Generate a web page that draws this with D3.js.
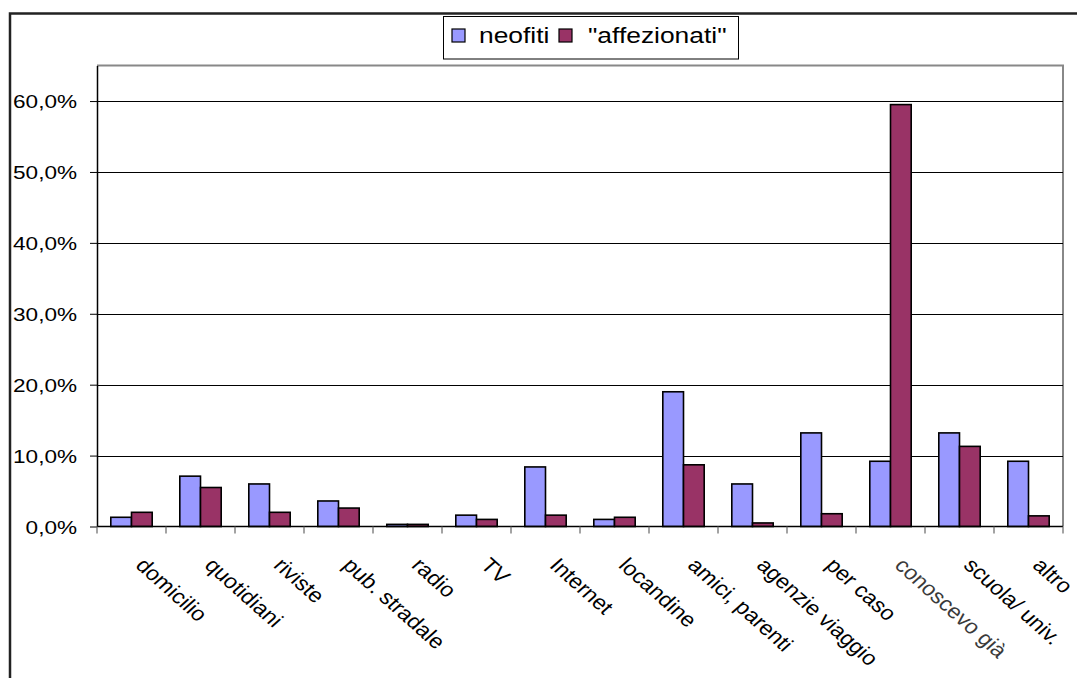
<!DOCTYPE html>
<html>
<head>
<meta charset="utf-8">
<script src="https://cdn.jsdelivr.net/npm/d3@7"></script>
<style>
  html, body { margin: 0; padding: 0; background: #fff; }
  svg { display: block; font-family: Arial, "Liberation Sans", sans-serif; }
</style>
</head>
<body>
<svg id="chart" width="1077" height="678"></svg>
<script>
// Come sono venuti a conoscenza dell'evento: neofiti vs "affezionati"
const categories = ["domicilio", "quotidiani", "riviste", "pub. stradale", "radio", "TV",
  "Internet", "locandine", "amici, parenti", "agenzie viaggio", "per caso",
  "conoscevo già", "scuola/ univ.", "altro"];
const seriesNames = ["neofiti", "\"affezionati\""];
const neofiti =     [0.013, 0.071, 0.060, 0.036, 0.003, 0.016, 0.084, 0.010, 0.190, 0.060, 0.132, 0.092, 0.132, 0.092];
const affezionati = [0.020, 0.055, 0.020, 0.026, 0.003, 0.010, 0.016, 0.013, 0.087, 0.005, 0.018, 0.595, 0.113, 0.015];
const yTicks = [0, 0.1, 0.2, 0.3, 0.4, 0.5, 0.6];
const colors = ["#9999FF", "#993366"];

const seriesValues = [neofiti, affezionati];
const data = categories.map((c, i) => ({ cat: c, values: seriesValues.map(s => s[i]) }));

const svg = d3.select("#chart");
const stretch = 1.2;       // wide glyph proportions of the chart's typeface
const labelStretch = 1.125; // proportions of the slanted category labels

const plot = { left: 97, right: 1063, top: 65.6, bottom: 526.5 };

const itLocale = d3.formatLocale({ decimal: ",", thousands: ".", grouping: [3], currency: ["", "€"] });
const pct = itLocale.format(".1%");

const x0 = d3.scaleBand().domain(categories).range([plot.left, plot.right]).paddingInner(0).paddingOuter(0);
const x1 = d3.scaleBand().domain(d3.range(seriesNames.length)).range([0, x0.bandwidth()])
  .paddingInner(0).paddingOuter(0.667);
const y = d3.scaleLinear().domain([0, 0.65]).range([plot.bottom, plot.top]);

// outer chart frame (extends past the window)
svg.append("rect")
  .attr("x", 10).attr("y", 13.5).attr("width", 1200).attr("height", 800)
  .attr("fill", "none").attr("stroke", "#222").attr("stroke-width", 2.5);

// plot area border (top and right in grey)
svg.append("path")
  .attr("d", `M${plot.left},${plot.top}H${plot.right}V${plot.bottom}`)
  .attr("fill", "none").attr("stroke", "#888").attr("stroke-width", 2);

// gridlines
svg.append("g").selectAll("line").data(yTicks.filter(d => d > 0)).join("line")
  .attr("x1", plot.left).attr("x2", plot.right)
  .attr("y1", d => Math.round(y(d)) + 0.5).attr("y2", d => Math.round(y(d)) + 0.5)
  .attr("stroke", "#000").attr("stroke-width", 1.2);

// bars
const groups = svg.append("g").selectAll("g").data(data).join("g")
  .attr("transform", d => `translate(${x0(d.cat)},0)`);
groups.selectAll("rect").data(d => d.values.map((v, i) => ({ v, i }))).join("rect")
  .attr("x", d => x1(d.i))
  .attr("width", x1.bandwidth())
  .attr("y", d => y(d.v))
  .attr("height", d => y(0) - y(d.v))
  .attr("fill", d => colors[d.i])
  .attr("stroke", "#000").attr("stroke-width", 1.6);

// y axis
const yAxis = svg.append("g")
  .attr("transform", `translate(${plot.left},0)`)
  .call(d3.axisLeft(y).tickValues(yTicks).tickFormat(pct).tickSizeInner(7).tickSizeOuter(0));
yAxis.select(".domain").attr("stroke", "#000").attr("stroke-width", 1.5);
yAxis.selectAll(".tick line").attr("stroke", "#000");
yAxis.selectAll(".tick text")
  .attr("x", null).attr("dy", null)
  .attr("transform", `translate(-20,6.5) scale(${stretch},1)`)
  .attr("font-size", 18.8).attr("fill", "#000")
  .attr("font-family", "Arial, 'Liberation Sans', sans-serif");

// x axis: baseline, category-boundary ticks and rotated labels
const xAxis = svg.append("g")
  .attr("transform", `translate(0,${plot.bottom})`)
  .call(d3.axisBottom(x0).tickSize(0).tickPadding(0));
xAxis.select(".domain").remove();
svg.append("line")
  .attr("x1", plot.left).attr("x2", plot.right)
  .attr("y1", plot.bottom).attr("y2", plot.bottom)
  .attr("stroke", "#000").attr("stroke-width", 1.5);
const bounds = categories.map(c => x0(c)).concat([x0.range()[1]]);
svg.append("g").selectAll("line").data(bounds).join("line")
  .attr("x1", d => d).attr("x2", d => d)
  .attr("y1", plot.bottom).attr("y2", plot.bottom + 7)
  .attr("stroke", "#666").attr("stroke-width", 1.2);
xAxis.selectAll(".tick text")
  .attr("y", null).attr("dy", null)
  .attr("text-anchor", "start")
  .attr("transform", `translate(3,40) scale(${labelStretch},1) rotate(45)`)
  .attr("font-size", 20.5)
  .attr("fill", d => d === "conoscevo già" ? "#3a3a3a" : "#000")
  .attr("font-family", "Arial, 'Liberation Sans', sans-serif");

// legend
const legend = svg.append("g");
legend.append("rect")
  .attr("x", 443.5).attr("y", 16.5).attr("width", 295).attr("height", 42.5)
  .attr("fill", "#fff").attr("stroke", "#000").attr("stroke-width", 1);
const legendX = [[452, 479], [559, 588]];
seriesNames.forEach((name, i) => {
  legend.append("rect")
    .attr("x", legendX[i][0]).attr("y", 29).attr("width", 13).attr("height", 13)
    .attr("fill", colors[i]).attr("stroke", "#000").attr("stroke-width", 1.2);
  legend.append("text")
    .attr("transform", `translate(${legendX[i][1]},43.3) scale(${stretch},1)`)
    .attr("font-size", 22).attr("fill", "#000")
    .text(name);
});
</script>
</body>
</html>
